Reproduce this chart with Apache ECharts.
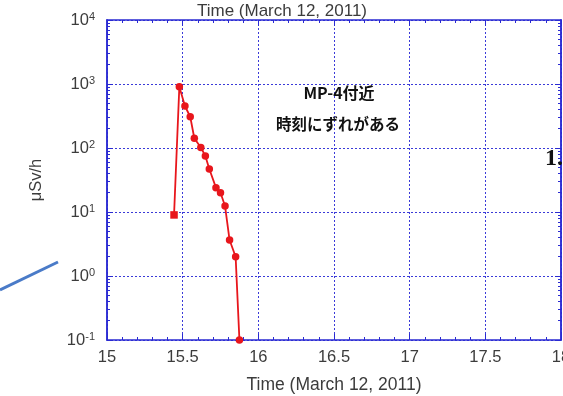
<!DOCTYPE html>
<html>
<head>
<meta charset="utf-8">
<script src="https://cdn.jsdelivr.net/npm/echarts@6/dist/echarts.min.js"></script>
<style>
  html, body { margin: 0; padding: 0; background: #fff; }
  #chart { width: 563px; height: 396px; }
</style>
</head>
<body>
<div id="chart"></div>
<script>
// Dose rate near MP-4 (μSv/h) against time of day, March 12, 2011
const timeHours = [15.443, 15.478, 15.515, 15.55, 15.577, 15.62, 15.65, 15.676, 15.72, 15.75, 15.78, 15.81, 15.85, 15.875];
const doseRate  = [9, 908, 453, 308, 142, 102, 75, 47, 24, 20, 12.4, 3.65, 2.0, 0.1];
const xTicks = [15, 15.5, 16, 16.5, 17, 17.5, 18];
const yDecades = [0.1, 1, 10, 100, 1000, 10000];
const yExponents = ['-1', '0', '1', '2', '3', '4'];

const AXIS_BLUE = '#2a2ad2';
const GRID_BLUE = '#3a3ad8';
const LABEL_GRAY = '#3c3c3c';
const SANS = 'Arial, "Liberation Sans", sans-serif';

// minor ticks of the log axis at 2..9 within each decade
const logMinor = [];
for (let d = 0; d < yDecades.length - 1; d++) {
  for (let k = 2; k <= 9; k++) logMinor.push(+(yDecades[d] * k).toPrecision(3));
}

const points = timeHours.map((t, i) => ({
  value: [t, doseRate[i]],
  symbol: i === 0 ? 'rect' : 'circle'
}));

function yAxisBase(pos) {
  return {
    type: 'log', logBase: 10, min: 0.1, max: 10000, position: pos, gridIndex: 0,
    axisLine: { show: true, onZero: false, lineStyle: { color: AXIS_BLUE, width: 1.5 } },
    splitLine: { show: false }, minorTick: { show: false }, minorSplitLine: { show: false }
  };
}

const chart = echarts.init(document.getElementById('chart'), null, { renderer: 'canvas' });
chart.setOption({
  backgroundColor: '#ffffff',
  animation: false,
  grid: { left: 107, right: 2, top: 20, bottom: 56, containLabel: false, outerBoundsMode: 'none' },
  xAxis: [
    {
      type: 'value', min: 15, max: 18, interval: 0.5, position: 'bottom',
      name: 'Time (March 12, 2011)', nameLocation: 'middle', nameGap: 36,
      nameTextStyle: { fontFamily: SANS, fontSize: 17.5, color: LABEL_GRAY },
      axisLine: { show: true, onZero: false, lineStyle: { color: AXIS_BLUE, width: 1.5 } },
      axisTick: { show: true, inside: true, length: 6, lineStyle: { color: AXIS_BLUE } },
      minorTick: { show: true, splitNumber: 5, length: 3, lineStyle: { color: AXIS_BLUE } },
      axisLabel: {
        show: true, margin: 9, fontFamily: SANS, fontSize: 16.5, color: LABEL_GRAY,
        showMaxLabel: true, hideOverlap: false,
        customValues: xTicks, formatter: v => String(v)
      },
      splitLine: { show: true, lineStyle: { color: GRID_BLUE, type: [2, 2], width: 1 } }
    },
    {
      type: 'value', min: 15, max: 18, interval: 0.5, position: 'top',
      axisLine: { show: true, onZero: false, lineStyle: { color: AXIS_BLUE, width: 1.5 } },
      axisTick: { show: true, inside: true, length: 6, lineStyle: { color: AXIS_BLUE } },
      minorTick: { show: true, splitNumber: 5, length: 3, lineStyle: { color: AXIS_BLUE } },
      axisLabel: { show: false },
      splitLine: { show: false }
    }
  ],
  yAxis: [
    Object.assign(yAxisBase('left'), {
      name: 'μSv/h', nameLocation: 'middle', nameGap: 62, nameRotate: 90,
      nameTextStyle: { fontFamily: SANS, fontSize: 16.5, color: LABEL_GRAY },
      axisTick: { show: true, inside: true, length: 6, customValues: yDecades, lineStyle: { color: AXIS_BLUE } },
      axisLabel: {
        show: true, margin: 12, customValues: yDecades,
        formatter: v => {
          const i = yDecades.findIndex(d => Math.abs(d - v) / d < 1e-6);
          return '{b|10}{e|' + yExponents[i] + '}';
        },
        rich: {
          b: { fontFamily: SANS, fontSize: 16.5, color: LABEL_GRAY, lineHeight: 17, verticalAlign: 'bottom' },
          e: { fontFamily: SANS, fontSize: 11, color: LABEL_GRAY, lineHeight: 17, verticalAlign: 'top' }
        }
      },
      splitLine: { show: true, lineStyle: { color: GRID_BLUE, type: [2, 2], width: 1 } }
    }),
    Object.assign(yAxisBase('left'), {
      axisTick: { show: true, inside: true, length: 3, customValues: logMinor, lineStyle: { color: AXIS_BLUE } },
      axisLabel: { show: false }
    }),
    Object.assign(yAxisBase('right'), {
      axisTick: { show: true, inside: true, length: 6, customValues: yDecades, lineStyle: { color: AXIS_BLUE } },
      axisLabel: { show: false }
    }),
    Object.assign(yAxisBase('right'), {
      axisTick: { show: true, inside: true, length: 3, customValues: logMinor, lineStyle: { color: AXIS_BLUE } },
      axisLabel: { show: false }
    })
  ],
  series: [{
    type: 'line',
    xAxisIndex: 0, yAxisIndex: 0,
    data: points,
    symbolSize: 7.5,
    showAllSymbol: true,
    clip: false,
    lineStyle: { color: '#e8161c', width: 1.8 },
    itemStyle: { color: '#e8161c' }
  }],
  graphic: [
    {
      type: 'text', x: 282, y: 11, z: 10,
      style: { text: 'Time (March 12, 2011)', align: 'center', verticalAlign: 'middle', font: '17px Arial, "Liberation Sans", sans-serif', fill: LABEL_GRAY }
    },
    {
      type: 'text', x: 339, y: 93, z: 10,
      style: { text: 'MP-4付近', align: 'center', verticalAlign: 'middle', font: 'bold 16px "Noto Sans CJK JP", sans-serif', fill: '#111' }
    },
    {
      type: 'text', x: 338, y: 124, z: 10,
      style: { text: '時刻にずれがある', align: 'center', verticalAlign: 'middle', font: 'bold 15.5px "Noto Sans CJK JP", sans-serif', fill: '#111' }
    },
    {
      type: 'text', x: 545, y: 159, z: 10,
      style: { text: '1.', verticalAlign: 'middle', font: 'bold 24px "Liberation Serif", "DejaVu Serif", serif', fill: '#111' }
    },
    {
      type: 'line', z: 10,
      shape: { x1: 0, y1: 290, x2: 58, y2: 262 },
      style: { stroke: '#4a7bc8', lineWidth: 3 }
    }
  ]
});
</script>
</body>
</html>
